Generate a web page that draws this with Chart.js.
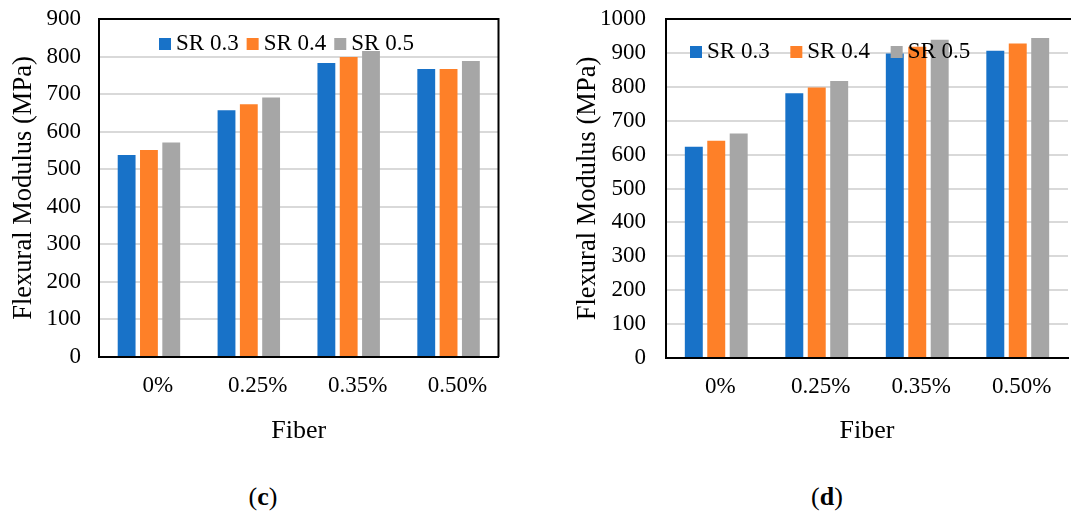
<!DOCTYPE html>
<html>
<head>
<meta charset="utf-8">
<script src="https://cdn.jsdelivr.net/npm/chart.js@4.4.1/dist/chart.umd.min.js"></script>
<style>
html, body { margin: 0; padding: 0; background: #fff; overflow: hidden; width: 1071px; height: 513px; }
canvas { position: absolute; top: 0; }
#chartC { left: 0; }
#chartD { left: 540px; }
.caption { position: absolute; top: 482px; font-family: "Liberation Serif", serif; font-size: 26px; line-height: 30px; transform: translateX(-50%); color: #000; }
</style>
</head>
<body>
<canvas id="chartC" width="540" height="470"></canvas>
<canvas id="chartD" width="540" height="470"></canvas>
<div class="caption" style="left:263px">(<b>c</b>)</div>
<div class="caption" style="left:827px">(<b>d</b>)</div>
<script>
var fibers = ['0%', '0.25%', '0.35%', '0.50%'];
var seriesNames = ['SR 0.3', 'SR 0.4', 'SR 0.5'];
var seriesColors = ['#1872C8', '#FE8028', '#A6A6A6'];

// panel (c)
var modC_sr03 = [538, 657, 783, 767];
var modC_sr04 = [551, 673, 799, 767];
var modC_sr05 = [571, 691, 815, 788];
var yTicksC = [0, 100, 200, 300, 400, 500, 600, 700, 800, 900];

// panel (d)
var modD_sr03 = [623, 781, 898, 906];
var modD_sr04 = [641, 798, 918, 928];
var modD_sr05 = [662, 817, 939, 944];
var yTicksD = [0, 100, 200, 300, 400, 500, 600, 700, 800, 900, 1000];

var serif = '"Liberation Serif", "Times New Roman", serif';

// legend row drawn inside the plot, on top of the bars
var insideLegend = {
    id: 'insideLegend',
    afterDatasetsDraw: function(chart, args, opts) {
        var ctx = chart.ctx;
        var area = chart.chartArea;
        var x = area.left + opts.x;
        var y = area.top + opts.y;
        ctx.save();
        ctx.font = '23px ' + serif;
        ctx.textAlign = 'left';
        ctx.textBaseline = 'middle';
        chart.data.datasets.forEach(function(ds) {
            ctx.fillStyle = ds.backgroundColor;
            ctx.fillRect(x, y - 6, 12, 12);
            ctx.fillStyle = '#000';
            ctx.fillText(ds.label, x + 17, y);
            x += 17 + ctx.measureText(ds.label).width + opts.gap;
        });
        ctx.restore();
    }
};

// top / right edges of the plot box (left and bottom come from the axis borders)
var plotFrame = {
    id: 'plotFrame',
    afterDatasetsDraw: function(chart, args, opts) {
        var ctx = chart.ctx;
        var a = chart.chartArea;
        ctx.save();
        ctx.strokeStyle = '#000';
        ctx.lineWidth = 2;
        ctx.beginPath();
        if (opts.openRight) {
            ctx.moveTo(a.left, a.top);
            ctx.lineTo(chart.width, a.top);
        } else {
            ctx.moveTo(a.left, a.top);
            ctx.lineTo(a.right, a.top);
            ctx.lineTo(a.right, a.bottom);
        }
        ctx.stroke();
        ctx.restore();
    }
};

function makeChart(id, values, yTicks, cfg) {
    var datasets = values.map(function(v, i) {
        return {
            label: seriesNames[i],
            data: v,
            backgroundColor: seriesColors[i],
            categoryPercentage: 0.67,
            barPercentage: 0.8
        };
    });
    return new Chart(document.getElementById(id), {
        type: 'bar',
        data: { labels: fibers, datasets: datasets },
        plugins: [plotFrame, insideLegend],
        options: {
            responsive: false,
            animation: false,
            layout: { padding: { left: 0, top: 19, right: cfg.padRight, bottom: 0 } },
            plugins: {
                legend: { display: false },
                tooltip: { enabled: false },
                insideLegend: cfg.legend,
                plotFrame: { openRight: cfg.openRight }
            },
            scales: {
                x: {
                    grid: { display: false, drawTicks: false },
                    border: { display: true, color: '#000', width: 2 },
                    ticks: { color: '#000', font: { family: serif, size: 23 }, padding: 15, labelOffset: cfg.labelOffset },
                    title: { display: true, text: 'Fiber', color: '#000', font: { family: serif, size: 26 }, padding: { top: 0, bottom: 23 } },
                    afterFit: function(s) { s.height = cfg.xHeight; }
                },
                y: {
                    min: yTicks[0],
                    max: yTicks[yTicks.length - 1],
                    afterBuildTicks: function(s) { s.ticks = yTicks.map(function(v) { return { value: v }; }); },
                    grid: { color: '#D9D9D9', lineWidth: 2, drawTicks: false },
                    border: { display: true, color: '#000', width: 2 },
                    ticks: {
                        color: '#000', font: { family: serif, size: 23 }, padding: cfg.yTickPad,
                        callback: function(v) { return String(v); }
                    },
                    title: { display: true, text: 'Flexural Modulus (MPa)', color: '#000', font: { family: serif, size: 26.5 }, padding: { top: cfg.yTitlePad, bottom: 0 } },
                    afterFit: function(s) {
                        s.width = cfg.yWidth;
                        s.paddingTop = 0;
                        s.paddingBottom = 0;
                    }
                }
            }
        }
    });
}

makeChart('chartC', [modC_sr03, modC_sr04, modC_sr05], yTicksC, {
    padRight: 41.5, xHeight: 113, yWidth: 99, yTickPad: 18, yTitlePad: 8.6,
    labelOffset: 9, openRight: false, legend: { x: 60, y: 25, gap: 8 }
});

makeChart('chartD', [modD_sr03, modD_sr04, modD_sr05], yTicksD, {
    padRight: 12, xHeight: 112, yWidth: 126, yTickPad: 20, yTitlePad: 32,
    labelOffset: 4, openRight: true, legend: { x: 24, y: 33, gap: 20.7 }
});
</script>
</body>
</html>
